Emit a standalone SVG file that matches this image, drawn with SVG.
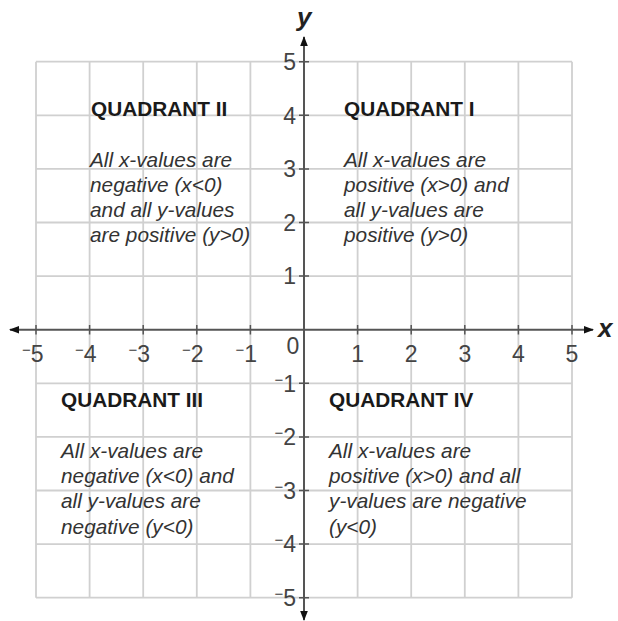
<svg xmlns="http://www.w3.org/2000/svg" width="618" height="621" viewBox="0 0 618 621">
<style>
.grid{stroke:#d0d0d0;stroke-width:1.8;fill:none}
.axis{stroke:#555;stroke-width:2;fill:none}
.tick{stroke:#555;stroke-width:1.5}
.lbl{font-family:"Liberation Sans",Arial,sans-serif;font-size:23px;fill:#444}
.mn{font-size:15px}
.title{font-family:"Liberation Sans",Arial,sans-serif;font-size:20.8px;font-weight:bold;fill:#1a1a1a}
.body{font-family:"Liberation Sans",Arial,sans-serif;font-size:20.8px;font-style:italic;fill:#333}
.axname{font-family:"Liberation Sans",Arial,sans-serif;font-size:26px;font-style:italic;font-weight:bold;fill:#222}
</style>
<defs>
<marker id="arr" viewBox="0 0 10 10" refX="9" refY="5" markerWidth="10" markerHeight="10" markerUnits="userSpaceOnUse" orient="auto">
<path d="M0,1.2 L10,5 L0,8.8 Z" fill="#111"/>
</marker>
</defs>
<rect width="618" height="621" fill="#fff"/>
<g id="grid" class="grid">
<path d="M36,61.7V597.7M89.6,61.7V597.7M143.2,61.7V597.7M196.8,61.7V597.7M250.4,61.7V597.7M357.6,61.7V597.7M411.2,61.7V597.7M464.8,61.7V597.7M518.4,61.7V597.7M572,61.7V597.7"/>
<path d="M36,61.7H572M36,115.3H572M36,168.9H572M36,222.5H572M36,276.1H572M36,383.3H572M36,436.9H572M36,490.5H572M36,544.1H572M36,597.7H572"/>
</g>
<g id="axes">
<line class="axis" x1="304" y1="329.7" x2="10" y2="329.7" marker-end="url(#arr)"/>
<line class="axis" x1="304" y1="329.7" x2="593" y2="329.7" marker-end="url(#arr)"/>
<line class="axis" x1="304" y1="329.7" x2="304" y2="37" marker-end="url(#arr)"/>
<line class="axis" x1="304" y1="329.7" x2="304" y2="620" marker-end="url(#arr)"/>
<path class="tick" d="M36,325V334.5M89.6,325V334.5M143.2,325V334.5M196.8,325V334.5M250.4,325V334.5M357.6,325V334.5M411.2,325V334.5M464.8,325V334.5M518.4,325V334.5M572,325V334.5"/>
<path class="tick" d="M299,61.7H309M299,115.3H309M299,168.9H309M299,222.5H309M299,276.1H309M299,383.3H309M299,436.9H309M299,490.5H309M299,544.1H309M299,597.7H309"/>
<text class="axname" x="297" y="26">y</text>
<text class="axname" x="598" y="337">x</text>
</g>
<g id="xlabels" class="lbl">
<text x="43.5" y="362" text-anchor="end"><tspan class="mn" dy="-7">−</tspan><tspan dy="7">5</tspan></text>
<text x="96.5" y="362" text-anchor="end"><tspan class="mn" dy="-7">−</tspan><tspan dy="7">4</tspan></text>
<text x="150" y="362" text-anchor="end"><tspan class="mn" dy="-7">−</tspan><tspan dy="7">3</tspan></text>
<text x="203.5" y="362" text-anchor="end"><tspan class="mn" dy="-7">−</tspan><tspan dy="7">2</tspan></text>
<text x="257" y="362" text-anchor="end"><tspan class="mn" dy="-7">−</tspan><tspan dy="7">1</tspan></text>
<text x="293" y="354" text-anchor="middle">0</text>
<text x="357.6" y="362" text-anchor="middle">1</text>
<text x="411.2" y="362" text-anchor="middle">2</text>
<text x="464.8" y="362" text-anchor="middle">3</text>
<text x="518.4" y="362" text-anchor="middle">4</text>
<text x="572" y="362" text-anchor="middle">5</text>
</g>
<g id="ylabels" class="lbl" text-anchor="end">
<text x="296" y="70">5</text>
<text x="296" y="123.5">4</text>
<text x="296" y="177">3</text>
<text x="296" y="230.5">2</text>
<text x="296" y="284">1</text>
<text x="296" y="391.5"><tspan class="mn" dy="-7">−</tspan><tspan dy="7">1</tspan></text>
<text x="296" y="445"><tspan class="mn" dy="-7">−</tspan><tspan dy="7">2</tspan></text>
<text x="296" y="498.5"><tspan class="mn" dy="-7">−</tspan><tspan dy="7">3</tspan></text>
<text x="296" y="552"><tspan class="mn" dy="-7">−</tspan><tspan dy="7">4</tspan></text>
<text x="296" y="605.5"><tspan class="mn" dy="-7">−</tspan><tspan dy="7">5</tspan></text>
</g>
<g id="quadrant-2">
<text class="title" x="91" y="116">QUADRANT II</text>
<text class="body" x="90" y="167">All x-values are</text>
<text class="body" x="90" y="192">negative (x&lt;0)</text>
<text class="body" x="90" y="217">and all y-values</text>
<text class="body" x="90" y="242">are positive (y&gt;0)</text>
</g>
<g id="quadrant-1">
<text class="title" x="344" y="116">QUADRANT I</text>
<text class="body" x="344" y="167">All x-values are</text>
<text class="body" x="344" y="192">positive (x&gt;0) and</text>
<text class="body" x="344" y="217">all y-values are</text>
<text class="body" x="344" y="242">positive (y&gt;0)</text>
</g>
<g id="quadrant-3">
<text class="title" x="61" y="407">QUADRANT III</text>
<text class="body" x="61" y="458">All x-values are</text>
<text class="body" x="61" y="483">negative (x&lt;0) and</text>
<text class="body" x="61" y="508">all y-values are</text>
<text class="body" x="61" y="533.5">negative (y&lt;0)</text>
</g>
<g id="quadrant-4">
<text class="title" x="329" y="407">QUADRANT IV</text>
<text class="body" x="329" y="458">All x-values are</text>
<text class="body" x="329" y="483">positive (x&gt;0) and all</text>
<text class="body" x="329" y="508">y-values are negative</text>
<text class="body" x="329" y="533.5">(y&lt;0)</text>
</g>
</svg>
